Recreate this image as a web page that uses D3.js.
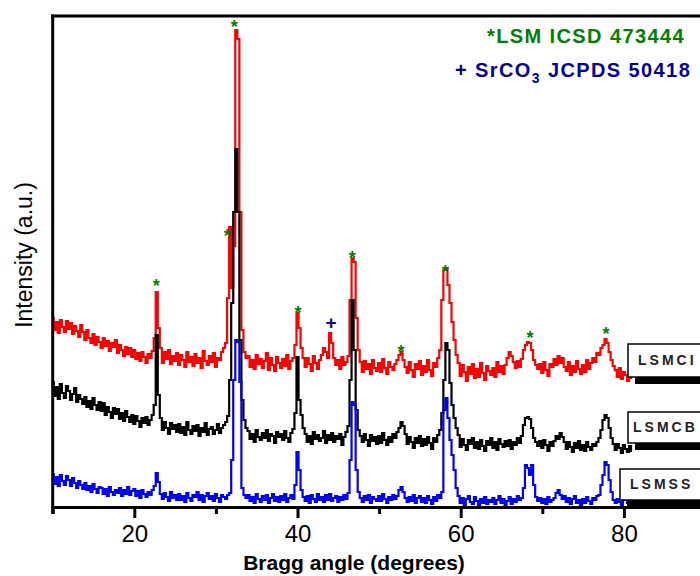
<!DOCTYPE html>
<html>
<head>
<meta charset="utf-8">
<script src="https://cdn.jsdelivr.net/npm/d3@7/dist/d3.min.js"></script>
<style>
    body { margin: 0; background: #fff; }
    text { font-family: Arial, "Liberation Sans", sans-serif; }
</style>
</head>
<body>
<div id="chart"></div>
<script>
// XRD scans, 2-theta from 10 deg in 0.25 deg steps (one row = 2 deg)
var angleStart = 10;
var angleStep = 0.25;

var lsmci = [
    190, 178, 186, 175, 188, 181, 176, 187,   // 10
    179, 185, 174, 182, 177, 171, 183, 176,   // 12
    168, 178, 170, 165, 174, 163, 171, 166,   // 14
    160, 170, 162, 167, 157, 165, 161, 168,   // 16
    155, 163, 158, 152, 161, 154, 160, 151,   // 18
    158, 149, 155, 147, 156, 151, 145, 154,   // 20
    150, 157, 170, 216, 180, 160, 145, 156,   // 22
    149, 158, 144, 152, 147, 155, 143, 153,   // 24
    148, 141, 156, 146, 151, 142, 154, 145,   // 26
    150, 140, 157, 147, 143, 152, 146, 155,   // 28
    141, 150, 148, 156, 160, 165, 210, 281,   // 30
    220, 262, 478, 469, 296, 178, 156, 150,   // 32
    152, 141, 148, 139, 153, 144, 149, 140,   // 34
    147, 155, 138, 150, 143, 137, 151, 145,   // 36
    140, 149, 142, 153, 139, 147, 150, 163,   // 38
    195, 180, 160, 150, 141, 150, 144, 137,   // 40
    152, 145, 139, 148, 153, 160, 156, 150,   // 42
    175, 165, 150, 143, 148, 139, 151, 143,   // 44
    146, 152, 208, 250, 246, 190, 158, 146,   // 46
    136, 147, 139, 144, 134, 148, 140, 137,   // 48
    145, 136, 149, 140, 134, 146, 141, 138,   // 50
    144, 148, 153, 156, 148, 141, 135, 146,   // 52
    138, 131, 144, 139, 147, 133, 142, 136,   // 54
    148, 138, 132, 145, 141, 150, 158, 208,   // 56
    238, 240, 223, 205, 186, 168, 153, 145,   // 58
    132, 143, 136, 127, 141, 134, 144, 130,   // 60
    139, 131, 145, 135, 128, 142, 137, 133,   // 62
    140, 131, 146, 136, 142, 134, 143, 150,   // 64
    156, 152, 146, 140, 147, 141, 149, 158,   // 66
    163, 166, 165, 158, 148, 143, 139, 144,   // 68
    135, 146, 138, 132, 144, 141, 149, 143,   // 70
    152, 145, 150, 141, 137, 146, 133, 142,   // 72
    136, 147, 139, 134, 143, 136, 148, 139,   // 74
    145, 150, 146, 155, 153, 160, 163, 169,   // 76
    165, 156, 148, 142, 138, 131, 140, 129,   // 78
    136, 133, 127, 135, 130                   // 80
];

var lsmcb = [
    126, 112, 121, 109, 124, 115, 110, 122,   // 10
    117, 108, 114, 120, 106, 113, 109, 104,   // 12
    111, 101, 107, 99, 110, 103, 98, 106,     // 14
    97, 105, 93, 101, 96, 90, 100, 94,        // 16
    99, 89, 95, 87, 97, 91, 86, 93,           // 18
    84, 92, 87, 81, 90, 85, 91, 83,           // 20
    88, 93, 103, 173, 113, 90, 78, 86,        // 22
    80, 74, 85, 79, 83, 76, 84, 75,           // 24
    81, 73, 86, 78, 74, 82, 77, 83,           // 26
    72, 80, 76, 85, 73, 79, 81, 74,           // 28
    78, 84, 75, 80, 83, 86, 92, 128,          // 30
    205, 296, 359, 296, 168, 108, 88, 80,     // 32
    77, 69, 74, 66, 78, 71, 68, 75,           // 34
    70, 78, 67, 74, 72, 65, 76, 71,           // 36
    74, 68, 77, 70, 66, 75, 79, 95,           // 38
    151, 108, 93, 80, 74, 66, 72, 64,         // 40
    76, 69, 73, 67, 70, 77, 65, 73,           // 42
    68, 75, 66, 72, 69, 74, 63, 71,           // 44
    76, 82, 128, 208, 158, 98, 78, 72,        // 46
    66, 74, 68, 62, 73, 67, 71, 64,           // 48
    72, 65, 75, 68, 63, 71, 66, 74,           // 50
    70, 76, 80, 86, 82, 74, 64, 71,           // 52
    66, 60, 70, 65, 72, 62, 69, 63,           // 54
    71, 65, 59, 70, 66, 73, 78, 95,           // 56
    128, 165, 158, 125, 103, 90, 80, 73,      // 58
    61, 69, 63, 58, 68, 64, 70, 60,           // 60
    66, 59, 68, 62, 57, 67, 63, 70,           // 62
    60, 66, 58, 69, 64, 61, 67, 62,           // 64
    68, 59, 66, 63, 70, 65, 72, 83,           // 66
    90, 91, 89, 80, 70, 66, 62, 67,           // 68
    60, 68, 63, 57, 66, 62, 67, 72,           // 70
    69, 75, 71, 66, 59, 66, 61, 56,           // 72
    65, 60, 67, 58, 63, 57, 66, 61,           // 74
    58, 64, 62, 66, 70, 78, 88, 93,           // 76
    90, 80, 70, 64, 58, 64, 60, 55,           // 78
    63, 59, 56, 62, 57                        // 80
];

var lsmss = [
    34, 24, 31, 22, 33, 27, 23, 32,           // 10
    28, 22, 30, 25, 20, 27, 23, 19,           // 12
    25, 18, 22, 16, 24, 19, 15, 21,           // 14
    20, 14, 19, 12, 21, 16, 13, 18,           // 16
    15, 20, 12, 18, 14, 21, 13, 17,           // 18
    19, 12, 17, 10, 18, 14, 11, 16,           // 20
    13, 18, 22, 35, 26, 14, 9, 15,            // 22
    11, 7, 16, 10, 13, 8, 14, 8,              // 24
    12, 6, 15, 10, 7, 13, 11, 16,             // 26
    8, 13, 6, 12, 15, 9, 12, 7,               // 28
    14, 10, 6, 13, 11, 9, 13, 15,             // 30
    48, 128, 168, 166, 126, 20, 13, 10,       // 32
    13, 7, 11, 5, 14, 9, 6, 12,               // 34
    8, 13, 5, 10, 14, 7, 11, 6,               // 36
    12, 8, 14, 6, 10, 13, 9, 23,              // 38
    56, 38, 18, 11, 7, 12, 5, 13,             // 40
    9, 6, 14, 8, 11, 6, 13, 8,                // 42
    14, 7, 10, 12, 6, 11, 8, 13,              // 44
    9, 15, 48, 106, 103, 38, 16, 10,          // 46
    6, 12, 8, 13, 5, 11, 9, 7,                // 48
    12, 7, 14, 9, 5, 11, 8, 13,               // 50
    9, 12, 18, 21, 16, 10, 6, 11,             // 52
    7, 13, 5, 10, 12, 6, 10, 5,               // 54
    12, 8, 4, 11, 7, 13, 10, 16,              // 56
    98, 110, 90, 68, 53, 38, 20, 12,          // 58
    5, 10, 3, 9, 12, 6, 4, 11,                // 60
    7, 2, 9, 5, 11, 4, 8, 6,                  // 62
    10, 4, 8, 12, 5, 9, 3, 7,                 // 64
    11, 4, 9, 6, 12, 8, 10, 20,               // 66
    43, 40, 33, 43, 23, 11, 7, 10,            // 68
    5, 9, 4, 11, 6, 8, 10, 15,                // 70
    18, 13, 9, 12, 6, 10, 4, 9,               // 72
    12, 5, 8, 3, 9, 5, 11, 7,                 // 74
    4, 10, 8, 12, 13, 23, 33, 46,             // 76
    43, 28, 16, 8, 5, 9, 6, 3,                // 78
    8, 10, 5, 7, 4                            // 80
];

var sampleNames = ["LSMCI", "LSMCB", "LSMSS"];

// reflection markers (angle, height of the mark in a.u.)
var lsmPeakAngles = [22.7, 31.4, 32.25, 40.05, 46.7, 52.7, 58.1, 68.5, 77.8];
var lsmPeakLevels = [226, 276, 485, 199, 254, 160, 240, 174, 178];
var srco3PeakAngles = [44.1];
var srco3PeakLevels = [186];

var xMajorTicks = [20, 40, 60, 80];
var xMinorTicks = [10, 30, 50, 70];

var width = 700, height = 576;

var svg = d3.select("#chart").append("svg")
    .attr("width", width)
    .attr("height", height);

var x = d3.scaleLinear().domain([10, 90]).range([52.7, 705.5]);
var y = d3.scaleLinear().domain([0, 492]).range([508, 16]);

var series = [
    {name: sampleNames[0], values: lsmci, color: "#ff0000", box: {x: 628, y: 344, h: 33, tx: 638}},
    {name: sampleNames[1], values: lsmcb, color: "#000000", box: {x: 628, y: 412, h: 31, tx: 633}},
    {name: sampleNames[2], values: lsmss, color: "#0000ff", box: {x: 620, y: 469, h: 31, tx: 630}}
];

var line = d3.line()
    .x(function (d, i) { return x(angleStart + i * angleStep); })
    .y(function (d) { return y(d); })
    .curve(d3.curveStep);

svg.selectAll(".scan")
    .data(series)
    .enter().append("path")
    .attr("class", "scan")
    .attr("d", function (d) { return line(d.values); })
    .attr("fill", "none")
    .attr("stroke", function (d) { return d.color; })
    .attr("stroke-width", 2.2);

// frame
svg.append("line")
    .attr("x1", x(10) - 1.5).attr("x2", width)
    .attr("y1", y(492)).attr("y2", y(492))
    .attr("stroke", "#000").attr("stroke-width", 3);
svg.append("line")
    .attr("x1", x(10)).attr("x2", x(10))
    .attr("y1", y(492) - 1.5).attr("y2", 514)
    .attr("stroke", "#000").attr("stroke-width", 3);

var xAxis = svg.append("g")
    .attr("transform", "translate(0," + (y(0) - 1) + ")")
    .call(d3.axisBottom(x).tickValues(xMajorTicks).tickSize(11).tickSizeOuter(0).tickPadding(7));
xAxis.select(".domain").attr("stroke-width", 3);
xAxis.selectAll(".tick line").attr("stroke-width", 3);
xAxis.selectAll(".tick text")
    .style("font-size", "24px")
    .style("font-family", "Arial, 'Liberation Sans', sans-serif")
    .attr("fill", "#000");

var xMinor = svg.append("g")
    .attr("transform", "translate(0," + (y(0) - 1) + ")")
    .call(d3.axisBottom(x).tickValues(xMinorTicks).tickSize(7).tickFormat(""));
xMinor.select(".domain").remove();
xMinor.selectAll(".tick line").attr("stroke-width", 3);

svg.append("text")
    .attr("x", 354)
    .attr("y", 570)
    .style("text-anchor", "middle")
    .style("font-size", "21px")
    .style("font-weight", "bold")
    .text("Bragg angle (degrees)");

svg.append("text")
    .attr("transform", "translate(32,255) rotate(-90)")
    .style("text-anchor", "middle")
    .style("font-size", "23px")
    .text("Intensity (a.u.)");

// peak markers
svg.selectAll(".lsm-mark")
    .data(lsmPeakAngles)
    .enter().append("text")
    .attr("class", "lsm-mark")
    .attr("x", function (d) { return x(d); })
    .attr("y", function (d, i) { return y(lsmPeakLevels[i]) + 10; })
    .style("text-anchor", "middle")
    .style("font-size", "18px")
    .style("font-weight", "bold")
    .attr("fill", "#008000")
    .text("*");

svg.selectAll(".srco3-mark")
    .data(srco3PeakAngles)
    .enter().append("text")
    .attr("class", "srco3-mark")
    .attr("x", function (d) { return x(d); })
    .attr("y", function (d, i) { return y(srco3PeakLevels[i]) + 7; })
    .style("text-anchor", "middle")
    .style("font-size", "19px")
    .style("font-weight", "bold")
    .attr("fill", "#0000a0")
    .text("+");

// legend
svg.append("text")
    .attr("x", 487)
    .attr("y", 43)
    .style("font-size", "20px")
    .style("font-weight", "bold")
    .style("letter-spacing", "1.4px")
    .attr("fill", "#008000")
    .text("*LSM ICSD 473444");

var leg2 = svg.append("text")
    .attr("x", 455)
    .attr("y", 77)
    .style("font-size", "20px")
    .style("font-weight", "bold")
    .style("letter-spacing", "1.4px")
    .attr("fill", "#0000a0");
leg2.append("tspan").text("+ SrCO");
leg2.append("tspan").attr("dy", 6).style("font-size", "14px").text("3");
leg2.append("tspan").attr("dy", -6).text(" JCPDS 50418");

// sample labels with drop shadow
var labels = svg.selectAll(".sample-label")
    .data(series)
    .enter().append("g")
    .attr("class", "sample-label");

labels.append("rect")
    .attr("x", function (d) { return d.box.x + 7; })
    .attr("y", function (d) { return d.box.y + 7; })
    .attr("width", 120)
    .attr("height", function (d) { return d.box.h; })
    .attr("fill", "#000");

labels.append("rect")
    .attr("x", function (d) { return d.box.x; })
    .attr("y", function (d) { return d.box.y; })
    .attr("width", 120)
    .attr("height", function (d) { return d.box.h; })
    .attr("fill", "#fff")
    .attr("stroke", "#000")
    .attr("stroke-width", 1.5);

labels.append("text")
    .attr("x", function (d) { return d.box.tx; })
    .attr("y", function (d) { return d.box.y + d.box.h / 2; })
    .attr("dy", ".35em")
    .style("font-size", "14px")
    .style("font-weight", "bold")
    .style("letter-spacing", "3px")
    .attr("fill", "#222")
    .text(function (d) { return d.name; });
</script>
</body>
</html>
